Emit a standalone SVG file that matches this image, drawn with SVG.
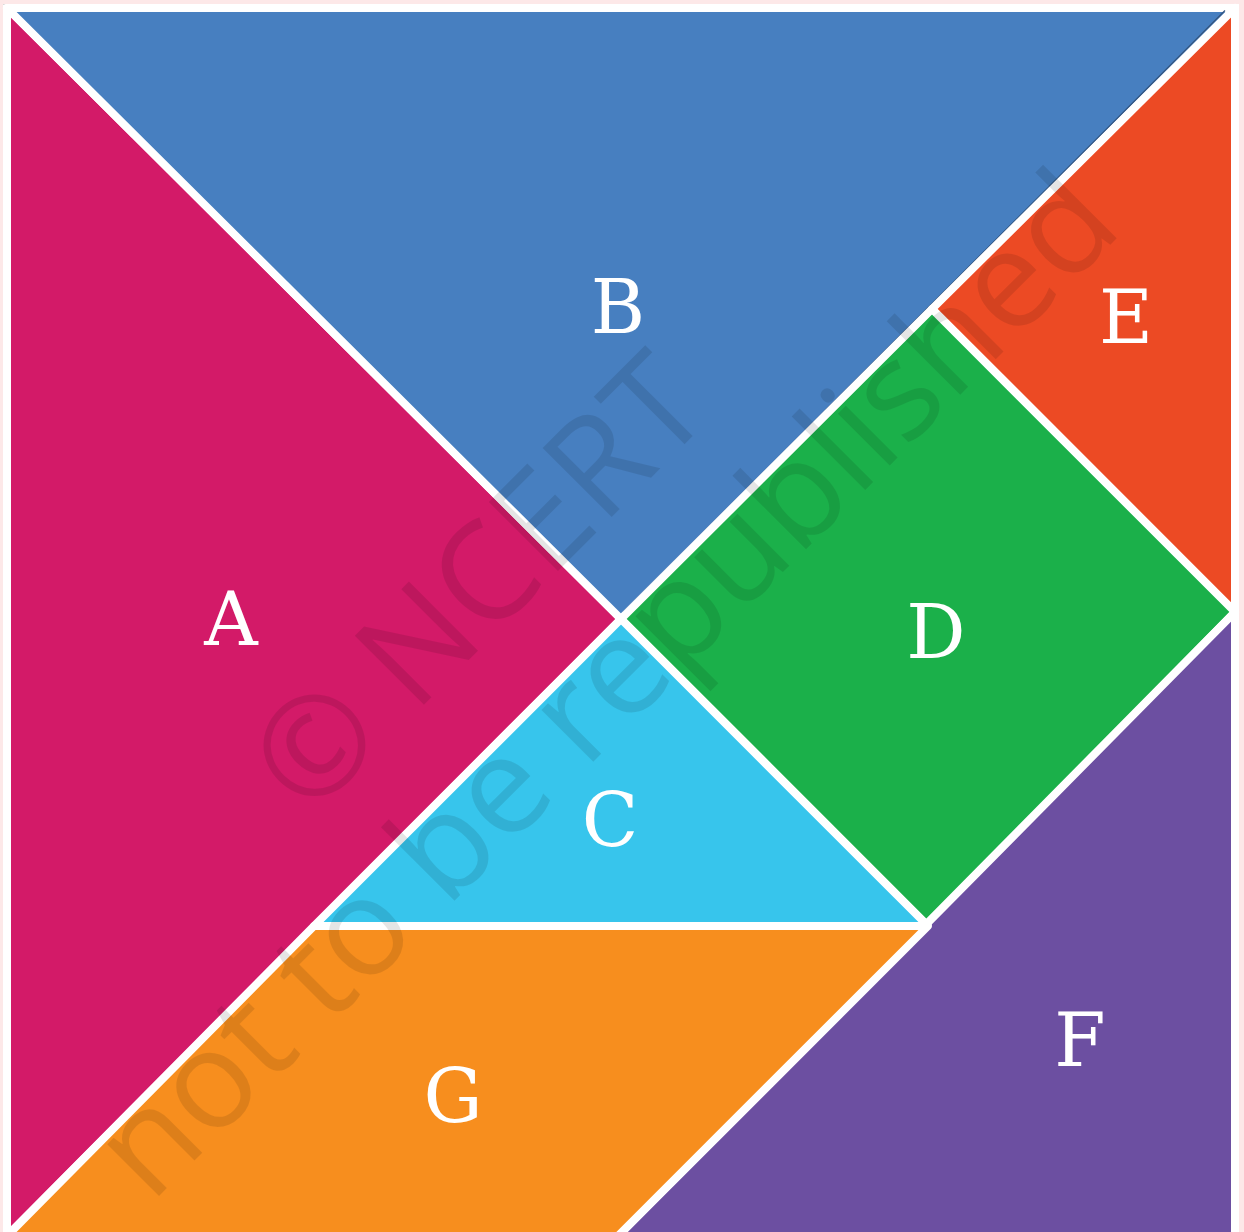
<svg xmlns="http://www.w3.org/2000/svg" width="1244" height="1232" viewBox="0 0 1244 1232">
<style>
.pc{stroke:#fff;stroke-width:8;stroke-linejoin:round}
.lb{font-family:"DejaVu Serif",serif;font-size:74px;fill:#fff;text-anchor:middle}
.wm{font-family:"Open Sans","Noto Sans",sans-serif;font-size:137px;fill:#000;fill-opacity:0.1;text-anchor:middle}
</style>
<rect x="0" y="0" width="1244" height="1232" fill="#fde8e8"/>
<rect x="3" y="4" width="1236" height="1232" fill="#fff"/>
<line x1="3" y1="4.5" x2="1236" y2="4.5" stroke="#d9d9d9" stroke-width="1"/>
<g id="A"><polygon class="pc" fill="#d31a68" points="7,8 621,619 7,1236"/><text class="lb" x="231" y="645">A</text></g>
<g id="B"><polygon class="pc" fill="#477fc0" points="7,8 1235,8 621,619"/><line x1="1225" y1="10.5" x2="623" y2="612.5" stroke="#34557f" stroke-width="1.2"/><text class="lb" x="618" y="333">B</text></g>
<g id="E"><polygon class="pc" fill="#ec4a24" points="1235,8 1235,612 932,309"/><text class="lb" x="1126" y="343">E</text></g>
<g id="D"><polygon class="pc" fill="#1bb04a" points="621,619 932,309 1235,612 928,926"/><text class="lb" x="936" y="658">D</text></g>
<g id="C"><polygon class="pc" fill="#37c5ec" points="621,619 928,926 314,926"/><text class="lb" x="610" y="846">C</text></g>
<g id="F"><polygon class="pc" fill="#6c4fa1" points="1235,612 1235,1236 618,1236"/><text class="lb" x="1080" y="1066">F</text></g>
<g id="G"><polygon class="pc" fill="#f78e1e" points="314,926 928,926 618,1236 7,1236"/><text class="lb" x="453" y="1122">G</text></g>
<g id="watermark" transform="translate(621,621) rotate(-45)">
<text class="wm" x="-74" y="-80">© NCERT</text>
<text class="wm" x="-56" y="80">not to be republished</text>
</g>
</svg>
